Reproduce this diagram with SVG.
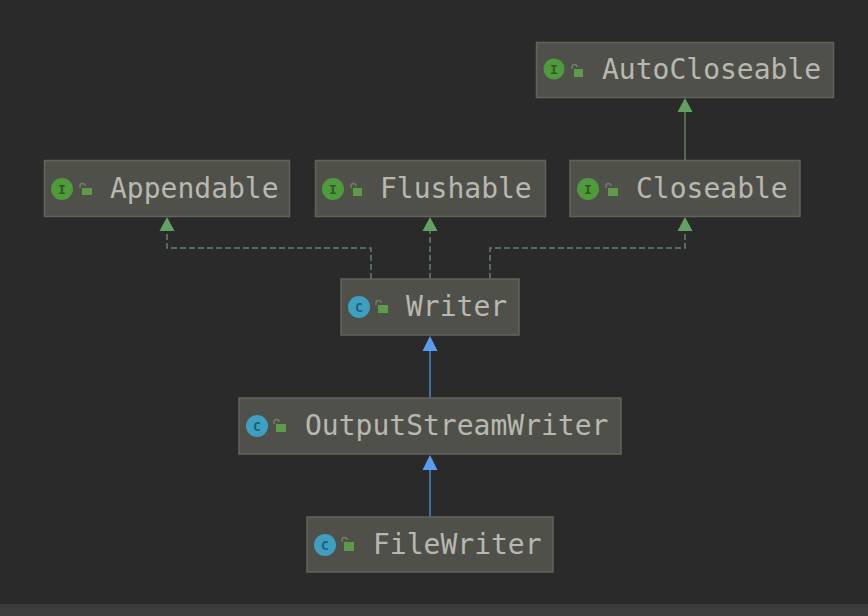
<svg xmlns="http://www.w3.org/2000/svg" width="868" height="616" viewBox="0 0 868 616">
<style>
.box{fill:#50504a;stroke:#63635c;stroke-width:1.5}
.t{font-family:"DejaVu Sans Mono","Liberation Mono",monospace;font-size:28px;fill:#b8b8b0}
.ii{fill:#4f9a3c}
.ci{fill:#3f9fc0}
.g{font-family:"DejaVu Sans Mono",monospace;font-size:13px;font-weight:bold;text-anchor:middle}
.lock{fill:#5f9a4a}
.sh{fill:none;stroke:#6f7f62;stroke-width:1.500}
.sg{fill:none;stroke:#5f855f;stroke-width:1.5}
.dg{fill:none;stroke:#66806a;stroke-width:1.5;stroke-dasharray:6 3}
.sb{fill:none;stroke:#4a86c8;stroke-width:1.5}
.hg{fill:#63a063}
.hb{fill:#5a9cf0}
</style>
<rect width="868" height="616" fill="#2a2a2a"/>
<rect y="604" width="868" height="12" fill="#3c3c3c"/>
<g id="connectors">
<path class="sg" d="M685 160V110"/><path class="hg" d="M685 98l7.500 14h-15z"/>
<path class="dg" d="M371 279V248H167V230"/><path class="hg" d="M167 217l7.500 14h-15z"/>
<path class="dg" d="M430 279V230"/><path class="hg" d="M430 217l7.500 14h-15z"/>
<path class="dg" d="M490 279V248H685V230"/><path class="hg" d="M685 217l7.500 14h-15z"/>
<path class="sb" d="M430 398V350"/><path class="hb" d="M430 336l7.500 15h-15z"/>
<path class="sb" d="M430 517V469"/><path class="hb" d="M430 455l7.500 15h-15z"/>
</g>
<g id="AutoCloseable"><rect class="box" x="536.500" y="42.500" width="297" height="55"/><circle class="ii" cx="554" cy="69" r="10.500"/><text class="g" x="554" y="74" fill="#2c5a20">I</text><path class="sh" d="M572 69v-2a2.500 2.500 0 0 1 5 0"/><rect class="lock" x="574" y="69" width="9" height="8"/><text class="t" x="602" y="79">AutoCloseable</text></g>
<g id="Appendable"><rect class="box" x="44.500" y="160.500" width="245" height="56"/><circle class="ii" cx="62" cy="189" r="11"/><text class="g" x="62" y="194" fill="#2c5a20">I</text><path class="sh" d="M80 188v-2a2.500 2.500 0 0 1 5 0"/><rect class="lock" x="82" y="188" width="10" height="7"/><text class="t" x="110" y="198">Appendable</text></g>
<g id="Flushable"><rect class="box" x="315.500" y="160.500" width="230" height="56"/><circle class="ii" cx="333" cy="189" r="11"/><text class="g" x="333" y="194" fill="#2c5a20">I</text><path class="sh" d="M351 188v-2a2.500 2.500 0 0 1 5 0"/><rect class="lock" x="353" y="188" width="9" height="8"/><text class="t" x="380" y="198">Flushable</text></g>
<g id="Closeable"><rect class="box" x="570" y="160.500" width="230" height="56"/><circle class="ii" cx="588" cy="189" r="11"/><text class="g" x="588" y="194" fill="#2c5a20">I</text><path class="sh" d="M606 188v-2a2.500 2.500 0 0 1 5 0"/><rect class="lock" x="608" y="188" width="10" height="8"/><text class="t" x="636" y="198">Closeable</text></g>
<g id="Writer"><rect class="box" x="341" y="279" width="178" height="56"/><circle class="ci" cx="359" cy="307" r="11"/><text class="g" x="359" y="312" fill="#1d5f78">C</text><path class="sh" d="M376 305v-2a2.500 2.500 0 0 1 5 0"/><rect class="lock" x="378" y="305" width="10" height="8"/><text class="t" x="406" y="316">Writer</text></g>
<g id="OutputStreamWriter"><rect class="box" x="239" y="398" width="382" height="56"/><circle class="ci" cx="257" cy="426" r="11"/><text class="g" x="257" y="431" fill="#1d5f78">C</text><path class="sh" d="M274 424v-2a2.500 2.500 0 0 1 5 0"/><rect class="lock" x="276" y="424" width="10" height="8"/><text class="t" x="305" y="435">OutputStreamWriter</text></g>
<g id="FileWriter"><rect class="box" x="307" y="517" width="246" height="55"/><circle class="ci" cx="325" cy="545" r="11"/><text class="g" x="325" y="550" fill="#1d5f78">C</text><path class="sh" d="M342 542v-2a2.500 2.500 0 0 1 5 0"/><rect class="lock" x="344" y="542" width="10" height="9"/><text class="t" x="373" y="554">FileWriter</text></g>
</svg>
